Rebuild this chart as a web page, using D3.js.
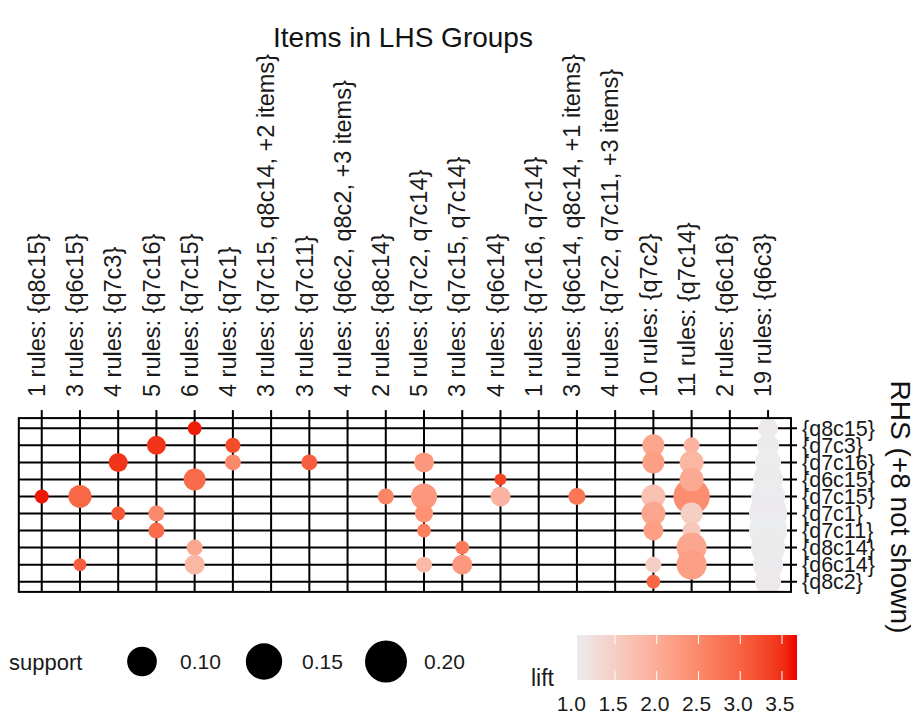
<!DOCTYPE html>
<html><head><meta charset="utf-8">
<script src="https://cdn.jsdelivr.net/npm/d3@7"></script>
<style>
html,body{margin:0;padding:0;background:#fff;}
text{font-family:"Liberation Sans",Arial,sans-serif;}
</style></head>
<body>
<svg id="chart" width="911" height="715"></svg>
<script>
// ---------------- data ----------------
const lhsGroups = [
  "1 rules: {q8c15}", "3 rules: {q6c15}", "4 rules: {q7c3}", "5 rules: {q7c16}",
  "6 rules: {q7c15}", "4 rules: {q7c1}", "3 rules: {q7c15, q8c14, +2 items}",
  "3 rules: {q7c11}", "4 rules: {q6c2, q8c2, +3 items}", "2 rules: {q8c14}",
  "5 rules: {q7c2, q7c14}", "3 rules: {q7c15, q7c14}", "4 rules: {q6c14}",
  "1 rules: {q7c16, q7c14}", "3 rules: {q6c14, q8c14, +1 items}",
  "4 rules: {q7c2, q7c11, +3 items}", "10 rules: {q7c2}", "11 rules: {q7c14}",
  "2 rules: {q6c16}", "19 rules: {q6c3}"
];
const rhsItems = ["{q8c15}","{q7c3}","{q7c16}","{q6c15}","{q7c15}","{q7c1}","{q7c11}","{q8c14}","{q6c14}","{q8c2}"];

// one entry per drawn point (group index, rhs index, support, lift)
const ruleLhs     = [0, 1, 1, 2, 2, 3, 3, 3, 4, 4, 4, 4, 5, 5, 7, 9, 10,10,10,10,10,11,11,12,12,14,
                     16,16,16,16,16,16,16, 17,17,17,17,17,17,17,17, 19,19,19,19,19,19,19,19,19,19];
const ruleRhs     = [4, 4, 8, 2, 5, 1, 5, 6, 0, 3, 7, 8, 1, 2, 2, 4, 2, 4, 5, 6, 8, 7, 8, 3, 4, 4,
                     1, 2, 4, 5, 6, 8, 9,  4, 1, 2, 3, 5, 6, 7, 8,  0, 1, 2, 3, 4, 5, 6, 7, 8, 9];
const ruleSupport = [0.022,0.060,0.019,0.041,0.022,0.041,0.029,0.029,0.022,0.055,0.029,0.045,0.026,0.029,0.029,0.029,
                     0.045,0.077,0.037,0.022,0.029,0.022,0.045,0.016,0.045,0.033,
                     0.055,0.055,0.065,0.065,0.045,0.029,0.022,
                     0.150,0.029,0.065,0.065,0.055,0.037,0.102,0.102,
                     0.045,0.055,0.077,0.102,0.131,0.164,0.164,0.131,0.102,0.077];
const ruleLift    = [3.62,2.95,3.05,3.45,3.15,3.45,2.50,2.90,3.60,2.90,2.10,1.85,3.25,2.50,3.05,2.55,
                     2.30,2.30,2.40,2.65,1.80,2.70,2.30,3.30,1.90,2.75,
                     2.10,2.20,1.70,2.10,2.20,1.50,2.95,
                     2.45,1.90,1.85,2.05,1.50,1.60,2.10,2.20,
                     1.10,1.08,1.05,1.06,1.05,1.07,1.05,1.08,1.06,1.10];

const supportBreaks = [0.10, 0.15, 0.20];
const liftRange = [1.045, 3.68];
const liftBreaks = [1.0, 1.5, 2.0, 2.5, 3.0, 3.5];

const rules = ruleLhs.map((g,i)=>({g, r: ruleRhs[i], s: ruleSupport[i], l: ruleLift[i]}));

// ---------------- layout ----------------
const svg = d3.select("#chart");
const P = {left: 18.8, right: 791, top: 418.1, bottom: 591.9};

const x = d3.scalePoint().domain(d3.range(lhsGroups.length)).range([P.left, P.right]).padding(0.6);
const y = d3.scalePoint().domain(d3.range(rhsItems.length)).range([P.top, P.bottom]).padding(0.6);
const rad = d3.scaleSqrt().domain([0, 0.2]).range([0, 21]);
const col = d3.scaleLinear().domain(liftRange).range(["#EBECEE", "#EE0000"]).interpolate(d3.interpolateLab).clamp(true);

// grid lines (with ticks)
const grid = svg.append("g").attr("stroke", "#000").attr("stroke-width", 2);
grid.selectAll("line.h").data(y.domain()).join("line")
  .attr("x1", P.left).attr("x2", P.right + 6)
  .attr("y1", d => y(d)).attr("y2", d => y(d));
grid.selectAll("line.v").data(x.domain()).join("line")
  .attr("y1", P.top - 8).attr("y2", P.bottom)
  .attr("x1", d => x(d)).attr("x2", d => x(d));

// clip
svg.append("clipPath").attr("id", "panel").append("rect")
  .attr("x", P.left).attr("y", P.top).attr("width", P.right - P.left).attr("height", P.bottom - P.top);

svg.append("g").attr("clip-path", "url(#panel)")
  .selectAll("circle").data(rules).join("circle")
  .attr("cx", d => x(d.g)).attr("cy", d => y(d.r))
  .attr("r", d => rad(d.s)).attr("fill", d => col(d.l));

// panel border
svg.append("rect").attr("x", P.left).attr("y", P.top)
  .attr("width", P.right - P.left).attr("height", P.bottom - P.top)
  .attr("fill", "none").attr("stroke", "#000").attr("stroke-width", 2);

// top axis labels
svg.append("g").selectAll("text").data(lhsGroups).join("text")
  .attr("transform", (d,i) => `translate(${x(i) - 5},397) rotate(-90)`)
  .attr("dy", "0.35em").attr("font-size", 23.5).attr("fill", "#1a1a1a")
  .text(d => d);

// right axis labels
svg.append("g").selectAll("text").data(rhsItems).join("text")
  .attr("x", P.right + 11).attr("y", (d,i) => y(i))
  .attr("dy", "0.35em").attr("font-size", 21.5).attr("fill", "#1a1a1a")
  .text(d => d);

// titles
svg.append("text").attr("x", 403).attr("y", 47).attr("text-anchor", "middle")
  .attr("font-size", 28).attr("fill", "#111").text("Items in LHS Groups");
svg.append("text").attr("transform", `translate(891,${(P.top + P.bottom) / 2 + 2}) rotate(90)`)
  .attr("text-anchor", "middle").attr("font-size", 28).attr("fill", "#111").text("RHS (+8 not shown)");

// support legend
const lg = svg.append("g");
lg.append("text").attr("x", 9).attr("y", 670).attr("font-size", 22).attr("fill", "#1a1a1a").text("support");
const lx = d3.scalePoint().domain(supportBreaks).range([142, 386]);
lg.selectAll("circle").data(supportBreaks).join("circle")
  .attr("cx", d => lx(d)).attr("cy", 661.5).attr("r", d => rad(d)).attr("fill", "#000");
lg.selectAll("text.v").data(supportBreaks).join("text")
  .attr("x", d => lx(d) + 38).attr("y", 669).attr("font-size", 21).attr("fill", "#1a1a1a")
  .text(d => d3.format(".2f")(d));

// lift colour bar
const bx = d3.scaleLinear().domain(liftRange).range([577, 797]);
const grad = svg.append("defs").append("linearGradient").attr("id", "liftgrad");
grad.selectAll("stop").data(d3.range(0, 1.0001, 0.05)).join("stop")
  .attr("offset", d => d).attr("stop-color", d => col(liftRange[0] + d * (liftRange[1] - liftRange[0])));
svg.append("rect").attr("x", bx(liftRange[0])).attr("y", 635)
  .attr("width", bx(liftRange[1]) - bx(liftRange[0])).attr("height", 45).attr("fill", "url(#liftgrad)");
const inBar = liftBreaks.filter(v => v >= liftRange[0] && v <= liftRange[1]);
const tk = svg.append("g").attr("stroke", "#fff").attr("stroke-width", 1);
tk.selectAll("line.t").data(inBar).join("line")
  .attr("x1", d => bx(d)).attr("x2", d => bx(d)).attr("y1", 635).attr("y2", 644);
tk.selectAll("line.b").data(inBar).join("line")
  .attr("x1", d => bx(d)).attr("x2", d => bx(d)).attr("y1", 671).attr("y2", 680);
svg.append("text").attr("x", 531).attr("y", 686).attr("font-size", 23).attr("fill", "#1a1a1a").text("lift");
svg.append("g").selectAll("text").data(liftBreaks).join("text")
  .attr("x", d => bx(d) - 2).attr("y", 711).attr("text-anchor", "middle")
  .attr("font-size", 21).attr("fill", "#1a1a1a").text(d => d3.format(".1f")(d));
</script>
</body></html>
